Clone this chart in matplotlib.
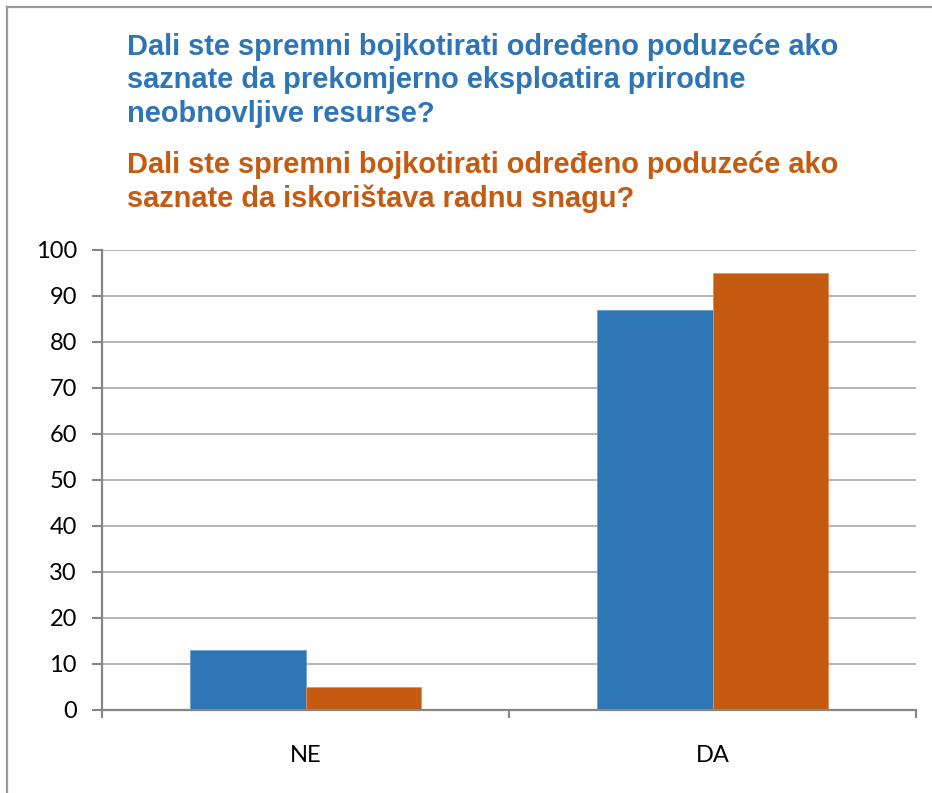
import matplotlib
matplotlib.use("Agg")
import matplotlib.pyplot as plt
import numpy as np
from matplotlib.lines import Line2D

categories = ["NE", "DA"]
series1_values = [13, 87]
series2_values = [5, 95]
series1_color = "#2E75B6"
series2_color = "#C55A11"
yticks = [0, 10, 20, 30, 40, 50, 60, 70, 80, 90, 100]
title1_lines = ["Dali ste spremni bojkotirati određeno poduzeće ako",
                "saznate da prekomjerno eksploatira prirodne",
                "neobnovljive resurse?"]
title2_lines = ["Dali ste spremni bojkotirati određeno poduzeće ako",
                "saznate da iskorištava radnu snagu?"]

W, H = 932, 793
fig = plt.figure(figsize=(W / 100, H / 100), dpi=100)
ax = fig.add_axes([102 / W, 1 - 710 / H, (916 - 102) / W, (710 - 250) / H])

x = np.arange(len(categories))
bw = 0.285
ax.bar(x - bw / 2, series1_values, bw, color=series1_color, edgecolor="#6fa0d0", linewidth=0.6, zorder=3)
ax.bar(x + bw / 2, series2_values, bw, color=series2_color, edgecolor="#e09060", linewidth=0.6, zorder=3)

ax.set_xlim(-0.5, 1.5)
ax.set_ylim(0, 100)
ax.set_yticks(yticks)
ax.set_yticklabels([str(v) for v in yticks], fontsize=17, family="Lato")
ax.set_xticks(x)
ax.set_xticklabels(categories, fontsize=17, family="Lato")
ax.set_xticks([-0.5, 0.5, 1.5], minor=True)
ax.tick_params(axis="x", which="major", length=0, pad=25)
ax.tick_params(axis="x", which="minor", length=6, width=1.5, color="#868686", direction="out")
ax.tick_params(axis="y", length=7, width=1.5, color="#868686", direction="out", pad=11)
ax.yaxis.grid(True, color="#b3b3b3", linewidth=1.4, zorder=0)
ax.set_axisbelow(True)
for s in ["top", "right"]:
    ax.spines[s].set_visible(False)
for s in ["left", "bottom"]:
    ax.spines[s].set_color("#868686")
    ax.spines[s].set_linewidth(1.6)
    ax.spines[s].set_zorder(4)

# titles
tx = 127 / W
title1_baselines = [55, 88.5, 122]
title2_baselines = [173, 207]
for line, b in zip(title1_lines, title1_baselines):
    fig.text(tx, 1 - b / H, line, color=series1_color, fontsize=20.9,
             fontweight="bold", family="Liberation Sans", va="baseline", ha="left")
for line, b in zip(title2_lines, title2_baselines):
    fig.text(tx, 1 - b / H, line, color=series2_color, fontsize=20.9,
             fontweight="bold", family="Liberation Sans", va="baseline", ha="left")

# outer border (left and top)
fig.add_artist(Line2D([7 / W, 7 / W], [0, 1 - 7 / H], color="#9a9a9a", linewidth=1.6,
                      transform=fig.transFigure))
fig.add_artist(Line2D([7 / W, 1], [1 - 7 / H, 1 - 7 / H], color="#9a9a9a", linewidth=1.6,
                      transform=fig.transFigure))

fig.savefig("out.png", dpi=100)
